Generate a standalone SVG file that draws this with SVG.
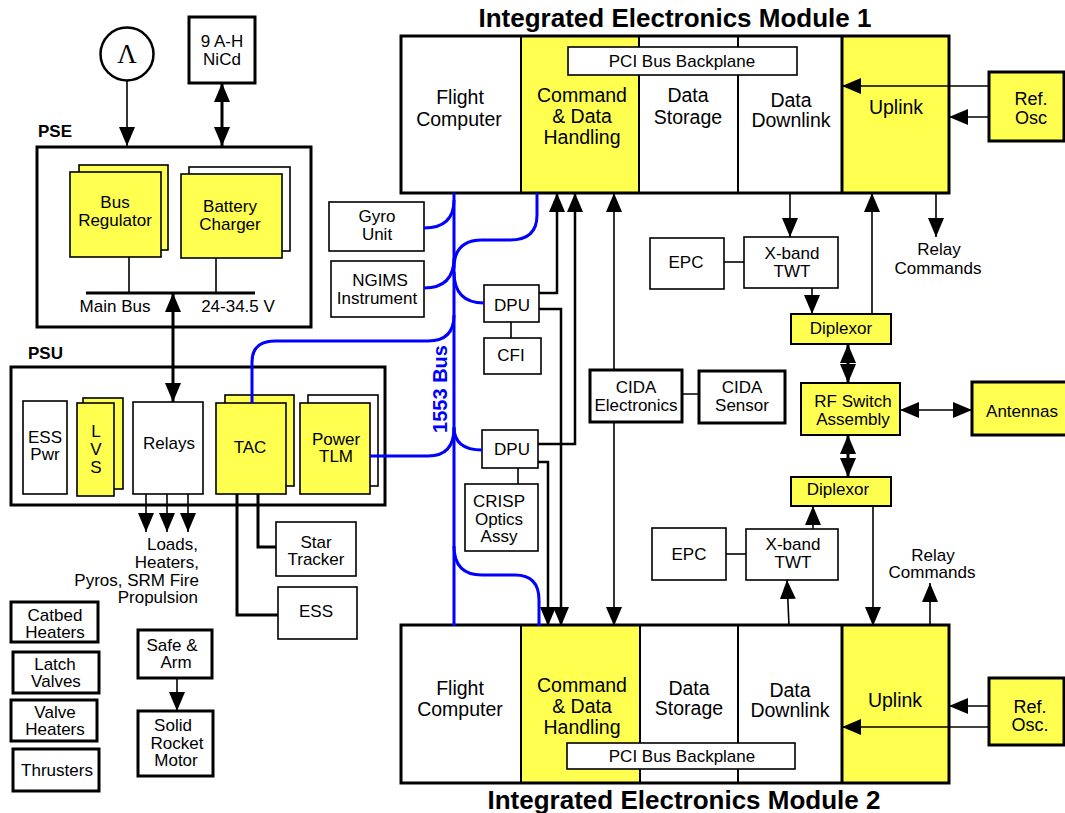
<svg xmlns="http://www.w3.org/2000/svg" width="1065" height="813" viewBox="0 0 1065 813">
<defs>
<style>
text{font-family:"Liberation Sans",Arial,sans-serif;font-size:17px;fill:#000;text-anchor:middle}
.big{font-size:19.5px}
.osc{font-size:18px}
.title{font-size:26px;font-weight:bold}
.lbl{font-weight:bold;text-anchor:start}
.box{fill:#fff;stroke:#000;stroke-width:1.6}
.tbox{fill:#fff;stroke:#000;stroke-width:3}
.frame{fill:none;stroke:#000;stroke-width:3}
.ybox{fill:#ffff50;stroke:#000;stroke-width:1.6}
.ytbox{fill:#ffff50;stroke:#000;stroke-width:3}
.yfill{fill:#ffff50}
.div{stroke:#000;stroke-width:2}
.ln{fill:none;stroke:#000;stroke-width:1.6}
.th{fill:none;stroke:#000;stroke-width:3}
.md{fill:none;stroke:#000;stroke-width:2.5}
.bl{fill:none;stroke:#0000ff;stroke-width:3}
.arr{marker-end:url(#ah)}
.dbl{marker-start:url(#ahs);marker-end:url(#ah)}
</style>
<marker id="ah" viewBox="0 0 19 16" markerWidth="19" markerHeight="16" refX="19" refY="8" orient="auto" markerUnits="userSpaceOnUse"><path d="M0,0L19,8L0,16Z" fill="#000"/></marker>
<marker id="ahs" viewBox="0 0 19 16" markerWidth="19" markerHeight="16" refX="19" refY="8" orient="auto-start-reverse" markerUnits="userSpaceOnUse"><path d="M0,0L19,8L0,16Z" fill="#000"/></marker>
</defs>
<rect width="1065" height="813" fill="#fff"/>

<!-- Titles -->
<text class="title" x="675" y="27">Integrated Electronics Module 1</text>
<text class="title" x="684" y="809">Integrated Electronics Module 2</text>

<!-- Sources -->
<g id="solar">
  <circle cx="127" cy="54" r="26.5" fill="#fff" stroke="#000" stroke-width="2.5"/>
  <text x="127" y="63" style="font-family:'Liberation Serif',serif;font-size:27px">Λ</text>
</g>
<g id="battery">
  <rect class="tbox" x="189" y="17" width="66" height="66"/>
  <text x="222" y="47">9 A-H</text>
  <text x="222" y="65">NiCd</text>
</g>

<!-- PSE -->
<g id="pse">
  <text class="lbl" x="38" y="137">PSE</text>
  <rect class="frame" x="37" y="147" width="274" height="180"/>
  <text x="115" y="312">Main Bus</text>
  <text x="238" y="312">24-34.5 V</text>
</g>
<g id="bus-regulator">
  <rect class="ybox" x="79" y="165" width="89" height="85"/>
  <rect class="ybox" x="70" y="172" width="91" height="85"/>
  <text x="115" y="208">Bus</text>
  <text x="115" y="226">Regulator</text>
</g>
<g id="battery-charger">
  <rect class="box" x="189" y="167" width="101" height="84"/>
  <rect class="ybox" x="181" y="174" width="101" height="84"/>
  <text x="230" y="212">Battery</text>
  <text x="230" y="230">Charger</text>
</g>

<!-- PSU -->
<g id="psu">
  <text class="lbl" x="28" y="359">PSU</text>
  <rect class="frame" x="11" y="367" width="374" height="138"/>
</g>
<g id="ess-pwr">
  <rect class="box" x="23" y="401" width="44" height="93"/>
  <text x="45" y="443">ESS</text>
  <text x="45" y="460">Pwr</text>
</g>
<g id="lvs">
  <rect class="ybox" x="83" y="398" width="40" height="91"/>
  <rect class="ybox" x="77" y="403" width="37" height="93"/>
  <text x="96" y="437">L</text>
  <text x="96" y="455">V</text>
  <text x="96" y="473">S</text>
</g>
<g id="relays">
  <rect class="box" x="133" y="402" width="70" height="92"/>
  <text x="169" y="449">Relays</text>
</g>
<g id="tac">
  <rect class="ybox" x="225" y="395" width="69" height="91"/>
  <rect class="ybox" x="216" y="403" width="70" height="91"/>
  <text x="250" y="453">TAC</text>
</g>
<g id="power-tlm">
  <rect class="box" x="308" y="395" width="70" height="91"/>
  <rect class="ybox" x="300" y="403" width="70" height="91"/>
  <text x="336" y="445">Power</text>
  <text x="336" y="462">TLM</text>
</g>
<g id="star-tracker">
  <rect class="box" x="276" y="522" width="80" height="54"/>
  <text x="316" y="548">Star</text>
  <text x="316" y="565">Tracker</text>
</g>
<g id="ess">
  <rect class="box" x="278" y="587" width="79" height="52"/>
  <text x="316" y="617">ESS</text>
</g>

<!-- Propulsion -->
<g id="catbed-heaters">
  <rect class="tbox" x="11" y="602" width="87" height="40"/>
  <text x="55" y="621">Catbed</text>
  <text x="55" y="638">Heaters</text>
</g>
<g id="latch-valves">
  <rect class="tbox" x="13" y="652" width="86" height="41"/>
  <text x="55" y="670">Latch</text>
  <text x="56" y="687">Valves</text>
</g>
<g id="valve-heaters">
  <rect class="tbox" x="11" y="700" width="86" height="41"/>
  <text x="55" y="718">Valve</text>
  <text x="55" y="735">Heaters</text>
</g>
<g id="thrusters">
  <rect class="tbox" x="13" y="749" width="86" height="42"/>
  <text x="57" y="776">Thrusters</text>
</g>
<g id="safe-arm">
  <rect class="tbox" x="138" y="630" width="74" height="48"/>
  <text x="172" y="651">Safe &amp;</text>
  <text x="176" y="668">Arm</text>
</g>
<g id="solid-rocket-motor">
  <rect class="tbox" x="138" y="711" width="75" height="65"/>
  <text x="173" y="731">Solid</text>
  <text x="177" y="749">Rocket</text>
  <text x="176" y="766">Motor</text>
</g>

<!-- Instruments -->
<g id="gyro-unit">
  <rect class="box" x="329" y="202" width="95" height="49"/>
  <text x="377" y="222">Gyro</text>
  <text x="377" y="240">Unit</text>
</g>
<g id="ngims">
  <rect class="box" x="331" y="261" width="93" height="56"/>
  <text x="380" y="286">NGIMS</text>
  <text x="377" y="304">Instrument</text>
</g>
<g id="dpu1">
  <rect class="box" x="484" y="285" width="55" height="37"/>
  <text x="512" y="311">DPU</text>
</g>
<g id="cfi">
  <rect class="box" x="484" y="338" width="57" height="36"/>
  <text x="511" y="361">CFI</text>
</g>
<g id="dpu2">
  <rect class="box" x="482" y="430" width="56" height="38"/>
  <text x="512" y="455">DPU</text>
</g>
<g id="crisp">
  <rect class="box" x="465" y="484" width="73" height="67"/>
  <text x="499" y="507">CRISP</text>
  <text x="499" y="525">Optics</text>
  <text x="499" y="542">Assy</text>
</g>
<g id="cida-electronics">
  <rect class="tbox" x="590" y="370" width="92" height="52"/>
  <text x="636" y="393">CIDA</text>
  <text x="636" y="411">Electronics</text>
</g>
<g id="cida-sensor">
  <rect class="tbox" x="699" y="371" width="86" height="52"/>
  <text x="742" y="393">CIDA</text>
  <text x="742" y="411">Sensor</text>
</g>

<!-- RF -->
<g id="epc1">
  <rect class="box" x="650" y="238" width="74" height="51"/>
  <text x="686" y="268">EPC</text>
</g>
<g id="twt1">
  <rect class="box" x="744" y="237" width="94" height="51"/>
  <text x="792" y="259">X-band</text>
  <text x="792" y="277">TWT</text>
</g>
<g id="diplexor1">
  <rect class="ybox" x="791" y="314" width="100" height="30" style="stroke-width:2"/>
  <text x="841" y="334">Diplexor</text>
</g>
<g id="rf-switch">
  <rect class="ybox" x="801" y="383" width="99" height="52" style="stroke-width:2"/>
  <text x="853" y="407">RF Switch</text>
  <text x="853" y="425">Assembly</text>
</g>
<g id="antennas">
  <rect class="ytbox" x="972" y="382" width="96" height="53"/>
  <text x="1022" y="417">Antennas</text>
</g>
<g id="diplexor2">
  <rect class="ybox" x="791" y="477" width="100" height="29" style="stroke-width:2"/>
  <text x="838" y="495">Diplexor</text>
</g>
<g id="epc2">
  <rect class="box" x="652" y="528" width="74" height="52"/>
  <text x="689" y="560">EPC</text>
</g>
<g id="twt2">
  <rect class="box" x="746" y="529" width="92" height="51"/>
  <text x="793" y="550">X-band</text>
  <text x="793" y="568">TWT</text>
</g>

<!-- IEM 1 -->
<g id="iem1">
  <rect x="401" y="36" width="548" height="157" fill="#fff"/>
  <rect class="yfill" x="521" y="36" width="118" height="157"/>
  <rect class="yfill" x="842" y="36" width="107" height="157"/>
  <path class="div" d="M521,36V193M639,36V193M738,36V193"/>
  <path d="M842,36V193" stroke="#000" stroke-width="3"/>
  <rect class="frame" x="401" y="36" width="548" height="157"/>
  <rect class="box" x="568" y="47" width="229" height="28"/>
  <text x="682" y="67">PCI Bus Backplane</text>
  <text class="big" x="460" y="104">Flight</text>
  <text class="big" x="459" y="126">Computer</text>
  <text class="big" x="582" y="102">Command</text>
  <text class="big" x="582" y="123">&amp; Data</text>
  <text class="big" x="582" y="144">Handling</text>
  <text class="big" x="688" y="102">Data</text>
  <text class="big" x="688" y="124">Storage</text>
  <text class="big" x="791" y="107">Data</text>
  <text class="big" x="791" y="127">Downlink</text>
  <text class="big" x="896" y="114">Uplink</text>
</g>
<g id="ref-osc1">
  <rect class="ytbox" x="989" y="72" width="75" height="69"/>
  <text class="osc" x="1031" y="105">Ref.</text>
  <text class="osc" x="1031" y="124">Osc</text>
</g>

<!-- IEM 2 -->
<g id="iem2">
  <rect x="401" y="625" width="548" height="158" fill="#fff"/>
  <rect class="yfill" x="521" y="625" width="119" height="158"/>
  <rect class="yfill" x="842" y="625" width="107" height="158"/>
  <path class="div" d="M521,625V783M640,625V783M738,625V783"/>
  <path d="M842,625V783" stroke="#000" stroke-width="3"/>
  <rect class="frame" x="401" y="625" width="548" height="158"/>
  <rect class="box" x="567" y="743" width="228" height="26"/>
  <text x="682" y="762">PCI Bus Backplane</text>
  <text class="big" x="460" y="695">Flight</text>
  <text class="big" x="460" y="716">Computer</text>
  <text class="big" x="582" y="692">Command</text>
  <text class="big" x="582" y="713">&amp; Data</text>
  <text class="big" x="582" y="734">Handling</text>
  <text class="big" x="689" y="695">Data</text>
  <text class="big" x="689" y="715">Storage</text>
  <text class="big" x="790" y="697">Data</text>
  <text class="big" x="790" y="717">Downlink</text>
  <text class="big" x="895" y="707">Uplink</text>
</g>
<g id="ref-osc2">
  <rect class="ytbox" x="989" y="678" width="75" height="67"/>
  <text class="osc" x="1030" y="713">Ref.</text>
  <text class="osc" x="1030" y="731">Osc.</text>
</g>

<!-- Connectors -->
<g id="connectors">
  <!-- 1553 bus -->
  <path class="bl" d="M454,193V626"/>
  <path class="bl" d="M424,228Q454,228 454,200"/>
  <path class="bl" d="M424,288Q454,288 454,258"/>
  <path class="bl" d="M537,193V215Q537,240 510,240H482Q454,240 454,268"/>
  <path class="bl" d="M454,272Q454,303 484,303"/>
  <path class="bl" d="M252,403V362Q252,341 275,341H428Q454,341 454,315"/>
  <path class="bl" d="M370,456H428Q454,456 454,428"/>
  <path class="bl" d="M454,427Q454,450 482,450"/>
  <path class="bl" d="M454,546Q454,575 482,575H515Q539,575 539,600V626"/>
  <text x="447" y="389" transform="rotate(-90 447 389)" style="font-size:20px;font-weight:bold;fill:#0000ff">1553 Bus</text>

  <!-- power -->
  <path class="ln arr" d="M127,81V146"/>
  <path class="th dbl" d="M222,83V146"/>
  <path class="ln" d="M129,257V293M216,258V293"/>
  <path class="th" d="M86,293H255"/>
  <path class="th dbl" d="M173,293V402"/>
  <path class="ln arr" d="M146,494V532"/>
  <path class="ln arr" d="M167,494V532"/>
  <path class="ln arr" d="M188,494V532"/>
  <path class="th" d="M237,494V615H278"/>
  <path class="th" d="M258,494V547H276"/>
  <path class="ln arr" d="M177,678V711"/>

  <!-- DPU / CIDA -->
  <path class="md arr" d="M539,293H557V193"/>
  <path class="md arr" d="M539,309H561V626"/>
  <path class="md arr" d="M538,444H575V193"/>
  <path class="md arr" d="M538,462H548V626"/>
  <path class="ln" d="M511,322V338M518,468V484M682,394H699"/>
  <path class="ln arr" d="M614,370V193"/>
  <path class="ln arr" d="M614,422V626"/>

  <!-- RF chain 1 -->
  <path class="ln arr" d="M790,193V237"/>
  <path class="ln" d="M724,262H744"/>
  <path class="ln arr" d="M812,288V314"/>
  <path class="ln arr" d="M872,314V193"/>
  <path class="ln arr" d="M936,193V237"/>
  <path class="th dbl" d="M848,344V383"/>
  <path class="ln dbl" d="M900,410H972"/>
  <path class="th dbl" d="M848,435V477"/>
  <!-- RF chain 2 -->
  <path class="ln arr" d="M813,529V506"/>
  <path class="ln" d="M726,554H746"/>
  <path class="ln arr" d="M789,626L787,580"/>
  <path class="ln arr" d="M873,506V626"/>
  <path class="ln arr" d="M930,626V583"/>
  <!-- Ref osc -->
  <path class="ln arr" d="M989,86H842"/>
  <path class="ln arr" d="M989,117H949"/>
  <path class="ln arr" d="M989,706H949"/>
  <path class="ln arr" d="M989,727H842"/>

  <text x="939" y="255">Relay</text>
  <text x="938" y="274">Commands</text>
  <text x="933" y="561">Relay</text>
  <text x="932" y="578">Commands</text>
  <text x="198" y="550" style="text-anchor:end">Loads,</text>
  <text x="199" y="568" style="text-anchor:end">Heaters,</text>
  <text x="199" y="586" style="text-anchor:end">Pyros, SRM Fire</text>
  <text x="198" y="603" style="text-anchor:end">Propulsion</text>
</g>
</svg>
